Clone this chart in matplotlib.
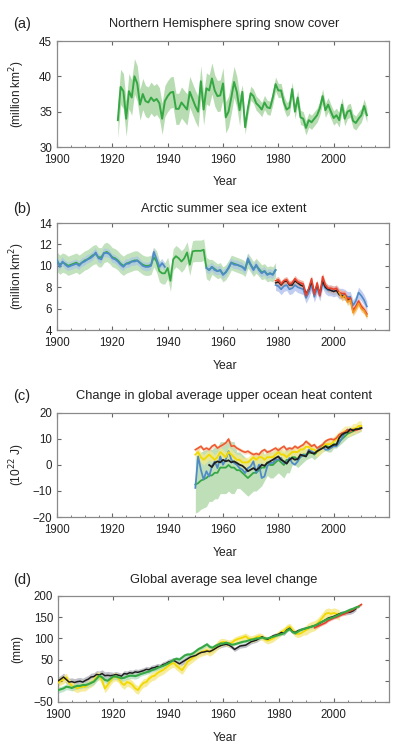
import numpy as np
import matplotlib
matplotlib.use("Agg")
import matplotlib.pyplot as plt
from matplotlib.ticker import MultipleLocator

plt.rcParams['font.family'] = ['Liberation Sans', 'DejaVu Sans']

# ---------------- (a) Northern Hemisphere spring snow cover ----------------
years_a = list(range(1922, 2013))
snow = [33.8, 38.5, 37.9, 34.0, 37.9, 37.0, 40.0, 39.0,
        36.0, 37.5, 36.5, 36.3, 37.0, 36.5, 36.8, 36.2, 34.0, 36.5,
        37.2, 37.7, 37.8, 35.4, 35.4, 36.3, 35.8, 35.3, 37.8, 36.8,
        35.8, 35.0, 39.3, 35.3, 38.3, 38.0, 39.7, 38.0, 37.2, 37.3,
        39.0, 34.2, 35.0, 37.0, 39.2, 37.8, 35.2, 37.8, 32.8, 35.5,
        37.6, 37.2, 36.2, 35.8, 35.3, 36.3, 35.6, 35.5, 37.0, 38.9,
        38.0, 38.0, 36.3, 35.3, 35.6, 38.2, 35.0, 37.0, 34.2, 34.0,
        32.7, 33.8, 33.5, 34.0, 34.5, 35.5, 37.2, 35.2, 36.0, 35.0,
        34.1, 34.5, 33.8, 36.0, 34.0, 35.0, 35.2, 33.7, 33.4, 34.0, 34.5, 35.8, 34.5]
snow_unc = [2.5] * 8 + [2.2] * 37 + [1.0] * 46

# ---------------- (b) Arctic summer sea ice extent ----------------
years_b1 = list(range(1900, 1980))
ice_blue1 = [10.56, 9.9, 10.4, 10.1, 9.9, 10.0, 10.1, 10.2, 10.0, 10.3,
             10.4, 10.6, 10.7, 10.9, 11.25, 10.7, 10.6, 11.2, 11.2, 11.1,
             10.7, 10.6, 10.4, 10.1, 9.9, 10.2, 10.2, 10.4, 10.4, 10.5,
             10.25, 10.0, 9.9, 9.9, 10.0, 11.3, 10.6, 9.9, 10.25, 9.9] + [np.nan] * 14 + \
            [9.8, 9.6, 9.9, 9.6, 9.5, 9.6, 9.15, 9.4, 9.8, 10.3,
             10.1, 10.1, 10.0, 9.9, 9.6, 10.7, 10.1, 9.6, 10.1, 9.6,
             9.3, 9.5, 9.15, 9.3, 9.15, 9.6]
ice_green1 = [10.4, 10.1, 10.3, 10.2, 10.0, 10.1, 10.2, 10.3, 10.1, 10.3,
              10.5, 10.6, 10.8, 11.0, 11.1, 10.8, 10.8, 11.2, 11.3, 11.1,
              10.8, 10.7, 10.5, 10.2, 10.0, 10.2, 10.3, 10.4, 10.5, 10.5,
              10.3, 10.1, 10.0, 10.0, 10.1, 10.8, 10.4, 9.5, 9.3, 9.3,
              9.8, 8.6, 10.6, 10.9, 10.7, 10.4, 10.7, 11.25, 10.1, 11.35,
              11.4, 11.4, 11.4, 11.5, 9.8, 9.6, 9.9, 9.7, 9.5, 9.6,
              9.2, 9.4, 9.8, 10.3, 10.2, 10.1, 10.0, 9.9, 9.7, 10.5,
              10.1, 9.7, 10.0, 9.7, 9.4, 9.5, 9.2, 9.3, 9.2, 9.6]
ice_green1_unc = [0.9] * 36 + [1.0] * 20 + [0.7] * 24
ice_blue1_unc = [0.4] * 80

years_b2 = list(range(1979, 2013))
ice_red = [8.6, 8.7, 8.3, 8.6, 8.7, 8.3, 8.4, 8.8, 8.5, 8.4, 8.3,
           7.2, 7.9, 8.8, 7.3, 8.4, 7.2, 9.0, 8.2, 7.9, 7.9,
           7.8, 7.9, 7.5, 7.4, 7.4, 6.9, 7.0, 5.8, 6.2, 6.7, 6.2, 5.9, 5.5]
ice_blue2 = [8.2, 8.1, 7.8, 8.1, 8.2, 7.8, 7.9, 8.2, 8.0, 7.9, 7.8,
             7.0, 7.5, 8.2, 7.1, 7.9, 7.2, 8.4, 7.9, 7.7, 7.7,
             7.6, 7.7, 7.4, 7.4, 7.3, 7.1, 7.1, 6.3, 6.7, 7.5, 7.2, 6.8, 6.2]
years_b3 = list(range(1979, 2007))
ice_black = [8.4, 8.5, 8.2, 8.5, 8.6, 8.2, 8.2, 8.6, 8.4, 8.2, 8.1,
             7.4, 7.8, 8.5, 7.5, 8.2, 7.4, 8.6, 8.0, 7.8, 7.7,
             7.6, 7.7, 7.3, 7.2, 7.1, 6.8, 6.9]
years_b4 = list(range(2002, 2013))
ice_orange = [7.5, 7.0, 7.2, 6.6, 6.8, 5.6, 6.0, 6.5, 6.0, 5.8, 5.3]

# ---------------- (c) Upper ocean heat content ----------------
years_c = list(range(1950, 2011))
ohc_orange = [5.9, 6.5, 7.2, 5.9, 6.5, 5.9, 7.2, 7.8, 6.5, 7.2,
              7.8, 8.5, 10.0, 7.2, 7.4, 6.5, 5.9, 5.3, 4.9, 5.3,
              4.6, 4.0, 4.4, 4.0, 5.3, 5.9, 4.9, 5.3, 5.9, 6.5,
              5.6, 6.5, 7.2, 5.9, 6.5, 6.2, 7.2, 6.5, 7.2, 7.8,
              9.1, 8.2, 7.2, 7.8, 6.5, 7.2, 7.8, 9.1, 9.7, 10.0,
              9.7, 10.4, 11.7, 12.3, 12.6, 13.6, 12.9, 13.6, 13.3, 13.8, 14.2]
ohc_blue = [-8.8, 3.3, -1.8, -5.6, -2.4, -4.4, -0.5, 1.4, -1.2, 3.3,
            0.1, 2.1, 5.3, 2.1, 0.8, 0.1, -1.2, -1.8, -3.1, -1.2,
            -0.5, 1.4, -3.1, 0.1, -5.0, -4.4, -0.5, 0.8, 0.8, 2.1,
            2.1, 2.7, 0.8, 0.8, 2.7, 0.8, 0.1, 1.4, 3.3, 4.0,
            3.3, 5.9, 5.3, 4.6, 5.3, 6.5, 7.2, 5.9, 5.9, 6.5,
            7.2, 7.2, 8.5, 10.4, 12.3, 13.6, 12.9, 13.6, 13.6, 13.8, 14.2]
ohc_green = [-7.5, -7.0, -6.0, -5.5, -5.0, -4.0, -4.0, -3.0, -3.0, -1.0,
             -1.0, -1.0, 0.0, -1.0, -1.0, -2.0, -2.0, -3.0, -4.0, -5.0,
             -4.0, -3.0, -3.0, -2.0, -1.0, -1.0, 1.0, 0.0, 0.0, 1.0,
             2.0, 1.0, 0.0, 2.0, 2.0, 3.0, 3.0, 2.0, 3.0, 4.0,
             4.0, 4.5, 5.0, 4.0, 5.0, 6.0, 7.0, 7.5, 7.0, 7.0,
             8.0, 8.0, 9.0, 10.0, 11.0, 12.0, 12.5, 13.0, 13.5, 14.0, 14.5]
ohc_green_unc = [11.0] * 5 + [10.0] * 10 + [7.0] * 10 + [5.0] * 10 + [3.0] * 5 + [2.0] * 10 + [1.5] * 11
ohc_yellow = [4, 5, 3, 2, 3, 4, 3, 2, 3, 5,
              4, 3, 5, 4, 3, 2, 2, 1, 1, 1,
              2, 3, 2, 3, 3, 2, 3, 3, 3, 4,
              5, 4, 4, 3, 4, 5, 5, 5, 6, 6,
              7, 7, 6, 6, 5, 6, 7, 8, 8, 8,
              9, 10, 11, 12, 13, 13, 13, 14, 14, 15, 15]
ohc_yellow_unc = [2.0] * 61
years_c_black = list(range(1955, 2011))
ohc_black = [0, -0.8, 0.8, 1.4, 1.0,
             2.0, 1.4, 1.8, 1.0, 1.4, 0.8, 0.1, -0.3, -1.2, -2.4,
             -1.8, -1.2, -2.0, -1.2, 0.1, -0.3, 0.8, 1.4, 2.0, 2.7,
             3.3, 2.0, 1.4, 0.5, 2.0, 2.7, 2.0, 2.3, 4.0, 3.6,
             3.3, 5.3, 4.6, 4.4, 5.3, 5.9, 6.5, 7.2, 6.5, 7.2,
             7.8, 7.8, 10.4, 11.7, 12.3, 12.6, 13.8, 13.3, 13.8, 13.8, 14.2]

# ---------------- (d) Global average sea level ----------------
years_d_black = list(range(1900, 2009))
sl_black = [0, 4, 9, 3, -3, -2, -4, -2, -1, -3,
            1, 4, 9, 10, 15, 14, 17, 12, 13, 12,
            13, 15, 13, 11, 17, 16, 19, 18, 21, 20,
            22, 24, 27, 26, 30, 31, 34, 33, 38, 40,
            44, 46, 48, 44, 40, 44, 48, 52, 56, 58,
            60, 64, 67, 68, 70, 69, 72, 76, 80, 83,
            85, 86, 84, 80, 74, 78, 82, 83, 84, 88,
            92, 94, 96, 100, 104, 100, 98, 102, 106, 108,
            110, 114, 112, 120, 124, 116, 114, 118, 120, 122,
            124, 126, 128, 130, 132, 136, 140, 144, 148, 150,
            152, 155, 158, 160, 160, 161, 162, 165, 170]
sl_black_unc = [9] * 20 + [7] * 30 + [5] * 59
years_d_green = list(range(1900, 2010))
sl_green = [-22, -20, -18, -14, -15, -17, -14, -12, -12, -10,
            -10, -8, -5, -2, 5, 12, 8, 2, 0, 5,
            10, 10, 8, 6, 7, 10, 12, 12, 11, 13,
            16, 18, 20, 22, 25, 27, 30, 33, 35, 38,
            41, 45, 50, 52, 50, 55, 60, 62, 62, 65,
            70, 75, 78, 82, 86, 80, 78, 82, 85, 88,
            88, 90, 88, 85, 86, 88, 90, 92, 93, 95,
            97, 98, 100, 100, 102, 100, 100, 102, 104, 106,
            108, 110, 112, 118, 122, 115, 112, 116, 120, 122,
            124, 126, 128, 130, 133, 137, 140, 143, 146, 148,
            150, 153, 156, 160, 162, 165, 168, 170, 173, 175]
sl_green_unc = [7] * 30 + [5] * 30 + [3] * 50
years_d_yellow = list(range(1900, 2003))
sl_yellow = [-5, 0, 3, 8, -5, -12, -15, -18, -15, -14,
             -14, -8, -5, 0, 10, 12, 0, -18, -10, 0,
             8, 10, 5, -5, -10, -3, -5, -10, -18, -22,
             -12, -5, -3, 5, 10, 12, 18, 22, 25, 30,
             35, 40, 42, 35, 30, 25, 35, 45, 50, 55,
             60, 65, 68, 70, 72, 68, 72, 78, 85, 90,
             92, 90, 88, 90, 95, 98, 100, 102, 105, 100,
             98, 100, 103, 105, 103, 98, 95, 97, 100, 105,
             110, 115, 118, 125, 128, 120, 112, 110, 112, 116,
             120, 125, 128, 130, 135, 142, 150, 158, 160, 158,
             160, 158, 155]
sl_yellow_unc = [10] * 60 + [8] * 30 + [12] * 13
years_d_red = list(range(1993, 2011))
sl_red = [125, 128, 131, 134, 137, 142, 145, 148, 150, 153,
          156, 158, 162, 165, 168, 172, 176, 180]
sl_red_unc = [3] * 18

# ---------------- figure ----------------
W, H = 397, 753
fig = plt.figure(figsize=(W / 100, H / 100), dpi=100)

TXT = '#222222'
FRAME = '#8a8a8a'


def px_axes(left, top, right, bottom):
    return fig.add_axes([left / W, 1 - bottom / H, (right - left) / W, (bottom - top) / H])


def style(ax, ylim, yticks):
    ax.set_xlim(1900, 2020)
    ax.set_ylim(*ylim)
    ax.set_xticks([1900, 1920, 1940, 1960, 1980, 2000])
    ax.xaxis.set_minor_locator(MultipleLocator(5))
    ax.set_yticks(yticks)
    ax.tick_params(which='major', direction='in', top=True, right=True, length=3.2,
                   width=0.8, color='#666666', labelsize=8.3, labelcolor=TXT, pad=3.5)
    ax.tick_params(which='minor', direction='in', top=False, bottom=True, length=1.6,
                   width=0.6, color='#666666')
    ax.tick_params(axis='x', which='major', pad=4.8)
    for s in ax.spines.values():
        s.set_color(FRAME)
        s.set_linewidth(0.9)


def band(ax, x, y, u, color, alpha=1.0, z=1):
    y = np.asarray(y, dtype=float)
    u = np.asarray(u, dtype=float)
    ax.fill_between(x, y - u, y + u, color=color, alpha=alpha, lw=0, zorder=z)


def labels(ycen_title, title, letter, ycen_year, ylabel, ax):
    fig.text(13 / W, 1 - ycen_title / H, letter, fontsize=10.5, color=TXT, ha='left', va='center')
    fig.text(224 / W, 1 - ycen_title / H, title, fontsize=9.3, color=TXT, ha='center', va='center')
    fig.text(225 / W, 1 - ycen_year / H, 'Year', fontsize=8.7, color=TXT, ha='center', va='center')
    bb = ax.get_position()
    fig.text(17 / W, bb.y0 + bb.height / 2, ylabel, fontsize=8.6, color=TXT,
             ha='center', va='center', rotation=90)


GREEN = '#35a844'
GREEN_B = '#b8dcb2'
BLUE = '#4f8bc9'
BLUE_B = '#a9c6e6'
RED = '#e8402c'
ORANGE = '#f39a22'
YELLOW = '#f2d900'
YELLOW_B = '#f6e98a'
BLACK = '#1e1e1e'
GRAY_B = '#b9b9c2'

# (a)
ax = px_axes(57, 41, 389, 147)
band(ax, years_a, snow, snow_unc, GREEN_B)
ax.plot(years_a, snow, color=GREEN, lw=1.4, zorder=3)
style(ax, (30, 45), [30, 35, 40, 45])
labels(24, 'Northern Hemisphere spring snow cover', '(a)', 182, '(million km$^2$)', ax)

# (b)
ax = px_axes(57, 223, 389, 330)
band(ax, years_b1, ice_green1, ice_green1_unc, GREEN_B, alpha=0.85)
band(ax, years_b1, ice_blue1, ice_blue1_unc, BLUE_B, alpha=0.7)
band(ax, years_b2, ice_blue2, [0.5] * len(years_b2), '#b3c2ee', alpha=0.8)
band(ax, years_b3, ice_black, [0.3] * len(years_b3), GRAY_B, alpha=0.8)
band(ax, years_b2, ice_red, [0.3] * len(years_b2), '#f3a38f', alpha=0.8)
band(ax, years_b4, ice_orange, [0.3] * len(years_b4), '#f8c57a', alpha=0.8)
ax.plot(years_b1, ice_green1, color=GREEN, lw=1.3, zorder=3)
ax.plot(years_b1, ice_blue1, color=BLUE, lw=1.3, zorder=4)
ax.plot(years_b2, ice_blue2, color=BLUE, lw=1.2, zorder=4)
ax.plot(years_b3, ice_black, color=BLACK, lw=1.1, zorder=5)
ax.plot(years_b2, ice_red, color=RED, lw=1.2, zorder=6)
ax.plot(years_b4, ice_orange, color=ORANGE, lw=1.2, zorder=7)
style(ax, (4, 14), [4, 6, 8, 10, 12, 14])
labels(209, 'Arctic summer sea ice extent', '(b)', 366, '(million km$^2$)', ax)

# (c)
ax = px_axes(57, 413, 389, 517)
band(ax, years_c, ohc_green, ohc_green_unc, GREEN_B, alpha=0.9)
band(ax, years_c, ohc_yellow, ohc_yellow_unc, YELLOW_B, alpha=0.7)
band(ax, years_c, ohc_orange, [0.8] * len(years_c), '#f8c9a0', alpha=0.6)
ax.plot(years_c, ohc_green, color=GREEN, lw=1.3, zorder=3)
ax.plot(years_c, ohc_blue, color=BLUE, lw=1.3, zorder=4)
ax.plot(years_c, ohc_yellow, color=YELLOW, lw=1.3, zorder=5)
ax.plot(years_c, ohc_orange, color='#ee5a35', lw=1.2, zorder=6)
ax.plot(years_c_black, ohc_black, color=BLACK, lw=1.3, zorder=7)
style(ax, (-20, 20), [-20, -10, 0, 10, 20])
labels(396, 'Change in global average upper ocean heat content', '(c)', 553, '(10$^{22}$ J)', ax)

# (d)
ax = px_axes(58, 596, 389, 702)
band(ax, years_d_black, sl_black, sl_black_unc, GRAY_B, alpha=0.9)
band(ax, years_d_yellow, sl_yellow, sl_yellow_unc, YELLOW_B, alpha=0.85)
band(ax, years_d_green, sl_green, sl_green_unc, '#a8dcb8', alpha=0.7)
band(ax, years_d_red, sl_red, sl_red_unc, '#f0a8a0', alpha=0.7)
ax.plot(years_d_yellow, sl_yellow, color=YELLOW, lw=1.3, zorder=3)
ax.plot(years_d_black, sl_black, color=BLACK, lw=1.1, zorder=4)
ax.plot(years_d_red, sl_red, color=RED, lw=1.2, zorder=5)
ax.plot(years_d_green, sl_green, color=GREEN, lw=1.5, zorder=6)
style(ax, (-50, 200), [-50, 0, 50, 100, 150, 200])
labels(580, 'Global average sea level change', '(d)', 738, '(mm)', ax)

fig.savefig('out.png', dpi=100, facecolor='white')
